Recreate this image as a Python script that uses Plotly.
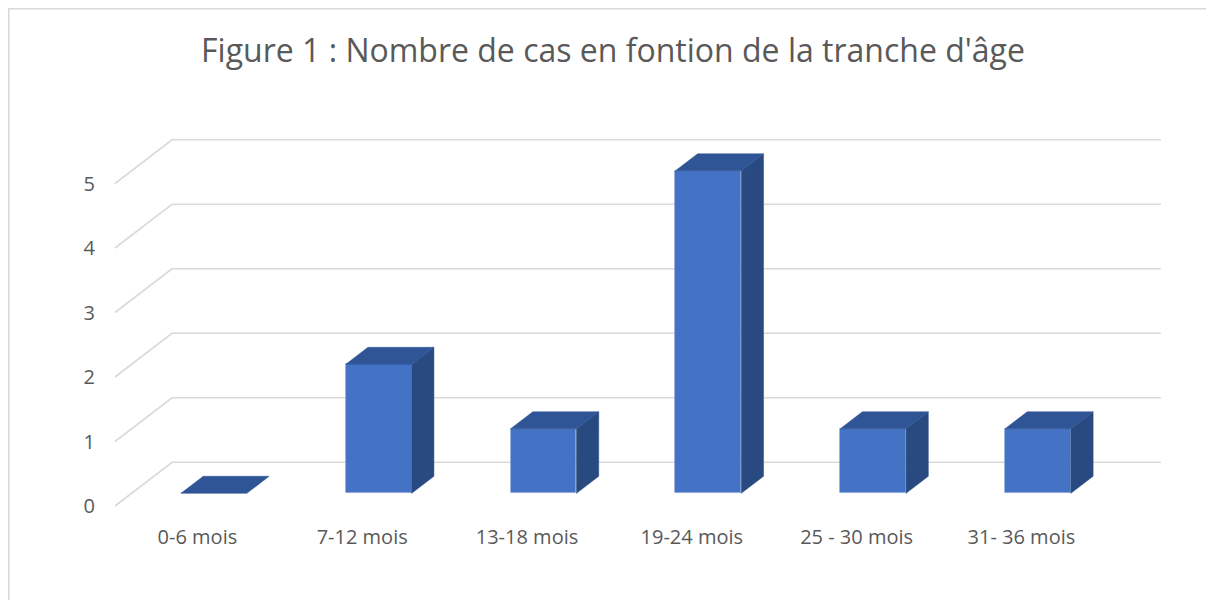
import plotly.graph_objects as go

# ---- data ----
categories = ["0-6 mois", "7-12 mois", "13-18 mois", "19-24 mois", "25 - 30 mois", "31- 36 mois"]
cases = [0, 2, 1, 5, 1, 1]
y_ticks = [0, 1, 2, 3, 4, 5]
title_text = "Figure 1 : Nombre de cas en fontion de la tranche d'âge"

# ---- layout geometry (figure pixels; page has an 8px body margin) ----
W, H = 1206, 592
L, R, T, B = 88, 30, 112, 85
PX_X = 164.8      # px per category
PX_Y = 64.5       # px per case
X0_PIX = 107      # pixel of category edge 0 at front plane
Y0_PIX = 498      # pixel of value 0 at front plane
xmin = -(X0_PIX - L) / PX_X
xmax = xmin + (W - L - R) / PX_X
ymax = (Y0_PIX - T) / PX_Y
ymin = ymax - (H - T - B) / PX_Y

# oblique depth projection (axis units for the full depth up to the back wall)
DX = 57 / PX_X
DY = 43.7 / PX_Y
D_FRONT, D_BACK = 0.29, 0.68   # bar depth range
HALF_W = 0.2                   # bar half width (category units)


def proj(x, v, d):
    return x + d * DX, v + d * DY


fig = go.Figure()

grid_color = "#D9D9D9"
ncat = len(categories)
# gridlines: front-left diagonal then along the back wall (below the bars)
for v in y_ticks:
    pts = [proj(0, v, 0), proj(0, v, 1), proj(ncat, v, 1)]
    path = "M " + " L ".join(f"{px},{py}" for px, py in pts)
    fig.add_shape(type="path", path=path, xref="x", yref="y", layer="below",
                  line=dict(color=grid_color, width=1.6))

front_c = "#4472C4"
top_c = "#2F5597"
side_c = "#284A80"
edge_c = "rgba(120,150,210,0.5)"

for i, val in enumerate(cases):
    c = i + 0.5
    xl, xr = c - HALF_W, c + HALF_W
    if val > 0:
        side = [proj(xr, 0, D_FRONT), proj(xr, 0, D_BACK), proj(xr, val, D_BACK), proj(xr, val, D_FRONT)]
        fig.add_trace(go.Scatter(x=[p[0] for p in side] + [side[0][0]], y=[p[1] for p in side] + [side[0][1]],
                                 mode="lines", fill="toself", fillcolor=side_c, line=dict(color=side_c, width=0.5),
                                 hoverinfo="skip", showlegend=False, cliponaxis=False))
    top = [proj(xl, val, D_FRONT), proj(xr, val, D_FRONT), proj(xr, val, D_BACK), proj(xl, val, D_BACK)]
    fig.add_trace(go.Scatter(x=[p[0] for p in top] + [top[0][0]], y=[p[1] for p in top] + [top[0][1]],
                             mode="lines", fill="toself", fillcolor=top_c, line=dict(color=top_c, width=0.5),
                             hoverinfo="skip", showlegend=False, cliponaxis=False))

# front faces as real bars
fx = [proj(i + 0.5, 0, D_FRONT)[0] for i in range(ncat)]
base = proj(0, 0, D_FRONT)[1]
fig.add_trace(go.Bar(x=fx, y=cases, base=base, width=2 * HALF_W,
                     marker=dict(color=front_c, line=dict(color=edge_c, width=0.8)),
                     showlegend=False, hoverinfo="skip"))


# chart-area border (top and left edges visible)
def px_to_paper_x(px):
    return (px - L) / (W - L - R)


def px_to_paper_y(py):
    return (H - B - py) / (H - T - B)


fig.add_shape(type="path",
              path=(f"M {px_to_paper_x(0.8)},{px_to_paper_y(H)} L {px_to_paper_x(0.8)},{px_to_paper_y(0.8)} "
                    f"L {px_to_paper_x(W)},{px_to_paper_y(0.8)}"),
              xref="paper", yref="paper", line=dict(color="#D9D9D9", width=1.6))

font_family = "Open Sans, Liberation Sans, sans-serif"
fig.update_layout(
    width=W, height=H,
    margin=dict(l=L, r=R, t=T, b=B),
    paper_bgcolor="white", plot_bgcolor="white",
    title=dict(text=title_text, x=605 / W, xref="container", xanchor="center",
               y=1 - 43 / H, yref="container", yanchor="middle",
               font=dict(family=font_family, size=32, color="#595959")),
    xaxis=dict(range=[xmin, xmax], tickvals=[i + 0.5 for i in range(ncat)], ticktext=categories,
               showgrid=False, zeroline=False, showline=False, ticks="", ticklabelstandoff=8,
               tickfont=dict(family=font_family, size=20, color="#595959")),
    yaxis=dict(range=[ymin, ymax], tickvals=y_ticks, ticktext=[str(v) for v in y_ticks],
               showgrid=False, zeroline=False, showline=False, ticks="",
               tickfont=dict(family=font_family, size=20, color="#595959")),
    bargap=0,
)

fig.write_html("out.html")
